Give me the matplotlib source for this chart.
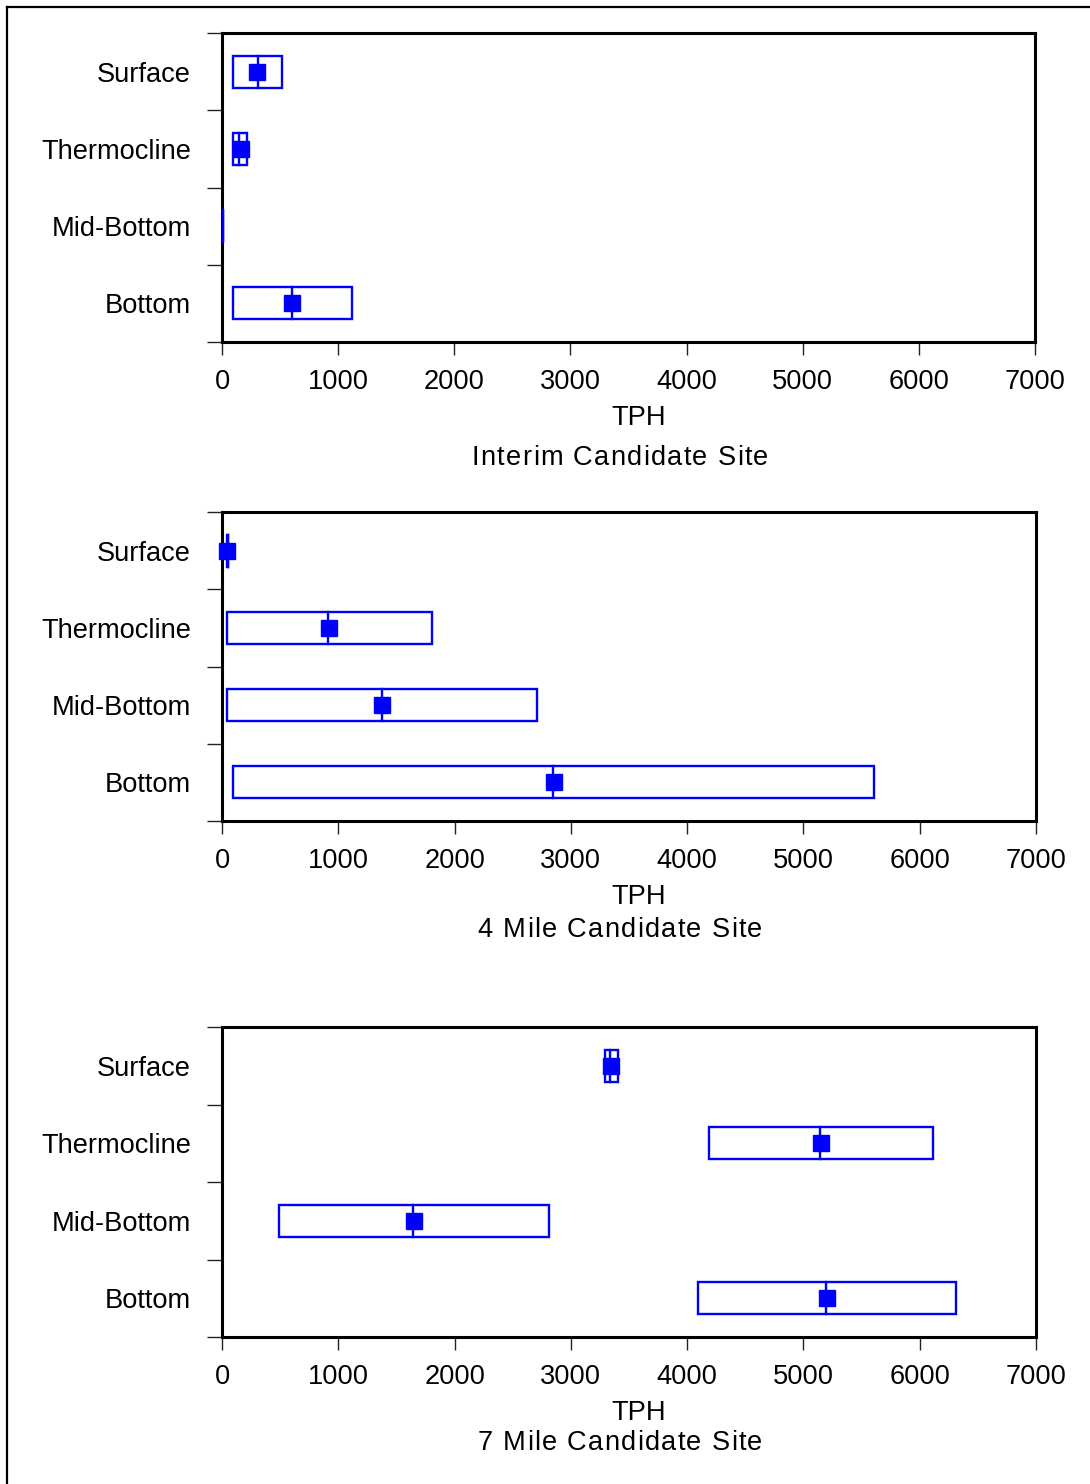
import matplotlib
matplotlib.use("Agg")
import matplotlib.pyplot as plt
from matplotlib.lines import Line2D
from matplotlib.font_manager import FontProperties
from matplotlib.textpath import TextToPath
import numpy as np

plt.rcParams['font.family'] = ['Liberation Sans', 'DejaVu Sans']

W, H = 1090, 1484
DPI = 100
BLUE = '#0000ff'
FS = 19.6

depths = ["Surface", "Thermocline", "Mid-Bottom", "Bottom"]
sites = ["Interim Candidate Site", "4 Mile Candidate Site", "7 Mile Candidate Site"]

# TPH ranges per depth: box low/high, median line, mean marker
interim_lo = [97, 97, 5, 97]
interim_hi = [514, 212, 5, 1116]
interim_med = [307, 146, 5, 600]
interim_mean = [304, 161, np.nan, 605]

mile4_lo = [44, 46, 46, 92]
mile4_hi = [52, 1807, 2708, 5603]
mile4_med = [49, 915, 1374, 2843]
mile4_mean = [46, 923, 1380, 2851]

mile7_lo = [3296, 4191, 490, 4096]
mile7_hi = [3405, 6110, 2809, 6311]
mile7_med = [3336, 5146, 1641, 5198]
mile7_mean = [3345, 5155, 1652, 5207]

xticks = [0, 1000, 2000, 3000, 4000, 5000, 6000, 7000]

panels = [
    (interim_lo, interim_hi, interim_med, interim_mean),
    (mile4_lo, mile4_hi, mile4_med, mile4_mean),
    (mile7_lo, mile7_hi, mile7_med, mile7_mean),
]

# axes boxes in pixels: left, right, top, bottom
boxes = [(222, 1035, 33, 342), (222, 1036, 512, 821), (222, 1036, 1027, 1337)]
tph_y = [418, 897, 1413]
title_y = [458, 930, 1443]

fig = plt.figure(figsize=(W / DPI, H / DPI), dpi=DPI)
ttp = TextToPath()


def text_w(s, prop):
    w, h, d = ttp.get_text_width_height_descent(s, prop, ismath=False)
    return w * DPI / 72.0


def spaced_text(cx, cy, s, track=1.3):
    # draw a string with extra letter spacing, centred at (cx, cy) in pixels
    prop = FontProperties(family='Liberation Sans', size=FS)
    offs = []
    for i, ch in enumerate(s):
        offs.append(text_w(s[:i + 1], prop) - text_w(ch, prop) if ch != ' ' else None)
    total = text_w(s, prop) + track * (len(s) - 1)
    x0 = cx - total / 2
    for i, ch in enumerate(s):
        if ch == ' ':
            continue
        fig.text((x0 + offs[i] + track * i) / W, 1 - cy / H, ch, fontsize=FS,
                 ha='left', va='center', color='black')


for k, (lo, hi, med, mean) in enumerate(panels):
    l, r, t, b = boxes[k]
    ax = fig.add_axes([l / W, 1 - b / H, (r - l) / W, (b - t) / H])
    y = np.arange(len(depths))
    lo = np.array(lo, float)
    hi = np.array(hi, float)
    ax.barh(y, hi - lo, left=lo, height=0.414, fill=False, edgecolor=BLUE,
            linewidth=1.7, zorder=3, clip_on=False)
    for yi, m in zip(y, med):
        ax.plot([m, m], [yi - 0.207, yi + 0.207], color=BLUE, lw=1.7, zorder=3,
                clip_on=False)
    ax.plot(mean, y, 's', color=BLUE, ms=11.5, mec=BLUE, zorder=4, clip_on=False)

    ax.set_xlim(0, 7000)
    ax.set_ylim(3.5, -0.5)
    ax.set_xticks(xticks)
    ax.set_xticklabels([str(v) for v in xticks], fontsize=FS)
    ax.tick_params(axis='x', direction='out', length=9.5, width=1.0, pad=9.8,
                   color='#222222')

    ax.set_yticks(np.arange(-0.5, 4.0, 1.0))
    ax.set_yticklabels([])
    ax.tick_params(axis='y', which='major', direction='out', length=10.8,
                   width=1.0, color='#222222')
    ax.set_yticks(y, minor=True)
    ax.set_yticklabels(depths, minor=True, fontsize=FS)
    ax.tick_params(axis='y', which='minor', length=0, pad=22.5)

    for sp in ax.spines.values():
        sp.set_linewidth(2.2)
        sp.set_color('black')

    fig.text(639 / W, 1 - tph_y[k] / H, "TPH", fontsize=FS, ha='center', va='center')
    spaced_text(620, title_y[k], sites[k])

# outer frame on left and top
fig.add_artist(Line2D([7 / W, 7 / W], [0, 1 - 7 / H], transform=fig.transFigure,
                      color='black', lw=1.6))
fig.add_artist(Line2D([7 / W, 1], [1 - 7 / H, 1 - 7 / H], transform=fig.transFigure,
                      color='black', lw=1.6))

fig.savefig("out.png", dpi=DPI, facecolor='white')
